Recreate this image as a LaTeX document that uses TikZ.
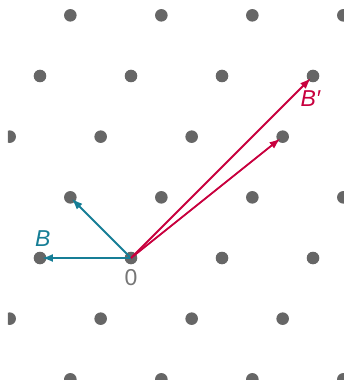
\documentclass[tikz,border=0pt]{standalone}
\usepackage{fontspec}
\setmainfont{Liberation Sans}
\usetikzlibrary{arrows.meta}
\definecolor{dotgray}{RGB}{102,102,102}
\definecolor{labgray}{RGB}{118,118,118}
\definecolor{tealB}{RGB}{22,126,150}
\definecolor{redB}{RGB}{200,0,62}
\tikzset{
  latdot/.style={fill=dotgray},
  vecB/.style={draw=tealB, line width=1.8pt, -{Latex[length=11pt,width=8pt]}, shorten >=2pt},
  vecBp/.style={draw=redB, line width=1.8pt, -{Latex[length=11pt,width=8pt]}, shorten >=3pt},
  lab/.style={inner sep=0pt, anchor=base, font=\fontsize{23}{27}\selectfont}
}
\begin{document}
\begin{tikzpicture}[x=91pt,y=91pt]
\useasboundingbox (-131/91,-122/91) rectangle (213/91,258/91);
\begin{scope}
\clip (-123/91,-122/91) rectangle (213/91,258/91);
\foreach \a in {-4,...,8}{
  \foreach \b in {-3,...,5}{
    \fill[latdot] ({\a-2*\b/3},{2*\b/3}) circle (6.3pt);
  }
}
\end{scope}
\coordinate (O) at (0,0);
\coordinate (b1) at (-1,0);
\coordinate (b2) at (-2/3,2/3);
\coordinate (c1) at (2,2);
\coordinate (c2) at (5/3,4/3);
\draw[vecB] (O) -- (b1);
\draw[vecB] (O) -- (b2);
\draw[vecBp] (O) -- (c1);
\draw[vecBp] (O) -- (c2);
\node[lab, text=tealB] (lB) at (-0.97,0.121) {\textit{B}};
\node[lab, text=redB] (lBp) at (1.975,1.67) {\textit{B′}};
\node[lab, text=labgray] (l0) at (0,-0.297) {0};
\end{tikzpicture}
\end{document}
